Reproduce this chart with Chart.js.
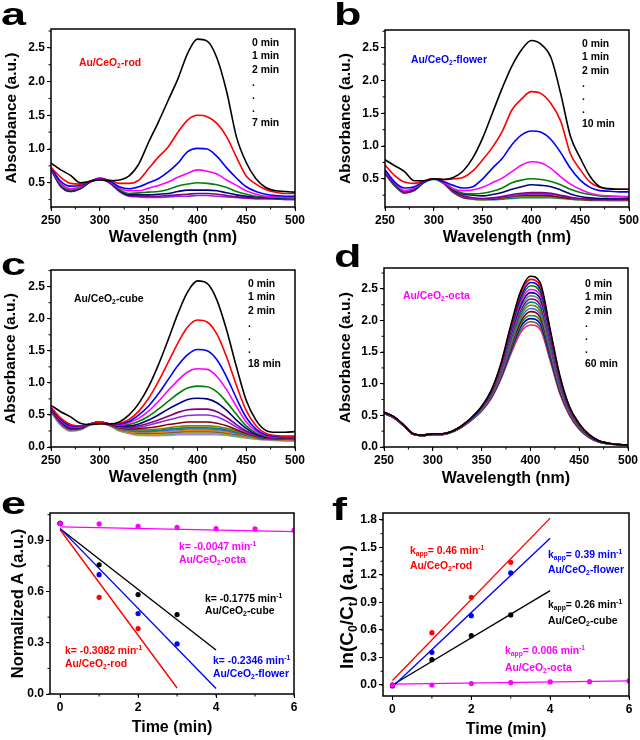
<!DOCTYPE html>
<html>
<head>
<meta charset="utf-8">
<script src="https://cdn.jsdelivr.net/npm/chart.js@4.4.1/dist/chart.umd.min.js"></script>
<style>
  body { margin: 0; background: #fff; }
  #fig { position: relative; width: 640px; height: 740px; font-family: "Liberation Sans", Arial, sans-serif; font-weight: bold; color: #000; }
  #fig canvas { position: absolute; }
  .t { position: absolute; font-size: 10.4px; line-height: 13px; white-space: nowrap; }
  .list { line-height: 13.3px; }
  .lbl { position: absolute; font-size: 31px; line-height: 31px; transform: scaleX(1.45); transform-origin: 0 0; }
  .ytitle { position: absolute; font-size: 19px; line-height: 20px; white-space: nowrap; transform: translate(-50%, -50%) rotate(-90deg); }
  sub { font-size: 0.65em; vertical-align: -0.3em; line-height: 0; }
  sup { font-size: 0.65em; vertical-align: 0.55em; line-height: 0; }
  .red { color: #ff0000; } .blue { color: #0000ff; } .mag { color: #ff00ff; }
</style>
</head>
<body>
<div id="fig">
  <canvas id="ca" width="320" height="250" style="left:0;top:0"></canvas>
  <canvas id="cb" width="320" height="250" style="left:320px;top:0"></canvas>
  <canvas id="cc" width="320" height="245" style="left:0;top:250px"></canvas>
  <canvas id="cd" width="320" height="245" style="left:320px;top:250px"></canvas>
  <canvas id="ce" width="320" height="245" style="left:0;top:495px"></canvas>
  <canvas id="cf" width="320" height="245" style="left:320px;top:495px"></canvas>

  <div class="lbl" style="left:1px;top:-1px">a</div>
  <div class="lbl" style="left:334px;top:-1px">b</div>
  <div class="lbl" style="left:1px;top:249px">c</div>
  <div class="lbl" style="left:334px;top:241px">d</div>
  <div class="lbl" style="left:1px;top:488px">e</div>
  <div class="lbl" style="left:332px;top:494px">f</div>

  <div class="t red" style="left:79px;top:56px">Au/CeO<sub>2</sub>-rod</div>
  <div class="t list" style="left:252px;top:36px">0 min<br>1 min<br>2 min<br>.<br>.<br>.<br>7 min</div>

  <div class="t blue" style="left:411px;top:53px">Au/CeO<sub>2</sub>-flower</div>
  <div class="t list" style="left:582px;top:37px">0 min<br>1 min<br>2 min<br>.<br>.<br>.<br>10 min</div>

  <div class="t" style="left:74px;top:292px">Au/CeO<sub>2</sub>-cube</div>
  <div class="t list" style="left:248px;top:277px">0 min<br>1 min<br>2 min<br>.<br>.<br>.<br>18 min</div>

  <div class="t mag" style="left:403px;top:289px">Au/CeO<sub>2</sub>-octa</div>
  <div class="t list" style="left:585px;top:277px">0 min<br>1 min<br>2 min<br>.<br>.<br>.<br>60 min</div>

  <div class="t mag" style="left:179px;top:540px">k= -0.0047 min<sup>-1</sup></div>
  <div class="t mag" style="left:179px;top:553px">Au/CeO<sub>2</sub>-octa</div>
  <div class="t" style="left:205px;top:592px">k= -0.1775 min<sup>-1</sup></div>
  <div class="t" style="left:205px;top:604px">Au/CeO<sub>2</sub>-cube</div>
  <div class="t red" style="left:65px;top:644px">k= -0.3082 min<sup>-1</sup></div>
  <div class="t red" style="left:65px;top:657px">Au/CeO<sub>2</sub>-rod</div>
  <div class="t blue" style="left:213px;top:654px">k= -0.2346 min<sup>-1</sup></div>
  <div class="t blue" style="left:213px;top:667px">Au/CeO<sub>2</sub>-flower</div>

  <div class="t red" style="left:410px;top:544px">k<sub>app</sub>= 0.46 min<sup>-1</sup></div>
  <div class="t red" style="left:410px;top:559px">Au/CeO<sub>2</sub>-rod</div>
  <div class="t blue" style="left:548px;top:548px">k<sub>app</sub>= 0.39 min<sup>-1</sup></div>
  <div class="t blue" style="left:548px;top:563px">Au/CeO<sub>2</sub>-flower</div>
  <div class="t" style="left:548px;top:598px">k<sub>app</sub>= 0.26 min<sup>-1</sup></div>
  <div class="t" style="left:548px;top:614px">Au/CeO<sub>2</sub>-cube</div>
  <div class="t mag" style="left:505px;top:644px">k<sub>app</sub>= 0.006 min<sup>-1</sup></div>
  <div class="t mag" style="left:505px;top:661px">Au/CeO<sub>2</sub>-octa</div>

  <div class="ytitle" style="left:347px;top:607px">ln(C<sub>0</sub>/C<sub>t</sub>) (a.u.)</div>
</div>

<script>
// wavelength grid shared by the four spectra panels (nm)
const wl = [250, 260, 270, 280, 290, 300, 310, 320, 330, 340, 350, 360, 370,
            380, 390, 400, 410, 420, 430, 440, 450, 460, 470, 480, 490, 500];

// (a) Au/CeO2-rod, 0..7 min
const rodCurves = [
  [0.79,0.69,0.61,0.50,0.52,0.54,0.53,0.54,0.60,0.78,1.10,1.40,1.72,2.04,2.42,2.63,2.60,2.35,1.85,1.18,0.80,0.56,0.43,0.38,0.37,0.36],
  [0.73,0.58,0.49,0.48,0.52,0.55,0.54,0.49,0.49,0.54,0.71,0.88,1.03,1.25,1.43,1.50,1.48,1.38,1.18,0.88,0.60,0.48,0.40,0.36,0.34,0.34],
  [0.72,0.52,0.45,0.46,0.52,0.56,0.53,0.44,0.41,0.44,0.50,0.56,0.66,0.79,0.96,1.01,1.00,0.89,0.72,0.57,0.44,0.37,0.33,0.31,0.30,0.30],
  [0.72,0.49,0.41,0.44,0.52,0.57,0.52,0.42,0.38,0.38,0.42,0.46,0.51,0.58,0.64,0.69,0.67,0.63,0.54,0.46,0.38,0.33,0.30,0.29,0.28,0.28],
  [0.71,0.47,0.39,0.43,0.52,0.57,0.52,0.40,0.34,0.35,0.36,0.37,0.40,0.45,0.48,0.50,0.49,0.47,0.43,0.37,0.33,0.30,0.29,0.28,0.28,0.27],
  [0.71,0.46,0.38,0.42,0.51,0.56,0.51,0.39,0.32,0.32,0.32,0.33,0.34,0.37,0.39,0.39,0.39,0.38,0.35,0.32,0.30,0.29,0.28,0.27,0.27,0.27],
  [0.70,0.45,0.37,0.41,0.51,0.56,0.50,0.38,0.31,0.30,0.30,0.30,0.31,0.32,0.33,0.34,0.34,0.33,0.31,0.29,0.28,0.27,0.27,0.26,0.26,0.26],
  [0.69,0.44,0.37,0.41,0.51,0.56,0.50,0.37,0.30,0.29,0.28,0.28,0.29,0.30,0.30,0.31,0.31,0.30,0.29,0.28,0.27,0.26,0.26,0.26,0.25,0.25]
];

// (b) Au/CeO2-flower, 0..10 min
const flowerCurves = [
  [0.79,0.70,0.61,0.47,0.47,0.50,0.49,0.52,0.62,0.82,1.12,1.50,1.88,2.22,2.47,2.61,2.55,2.35,1.80,1.15,0.82,0.54,0.38,0.35,0.34,0.34],
  [0.71,0.55,0.45,0.43,0.47,0.50,0.49,0.50,0.52,0.62,0.79,0.98,1.22,1.55,1.72,1.83,1.80,1.65,1.38,0.88,0.64,0.45,0.37,0.34,0.34,0.34],
  [0.64,0.45,0.36,0.38,0.46,0.50,0.46,0.40,0.36,0.38,0.50,0.66,0.81,1.02,1.17,1.23,1.21,1.10,0.90,0.66,0.48,0.37,0.32,0.31,0.30,0.30],
  [0.62,0.44,0.32,0.36,0.46,0.50,0.45,0.35,0.32,0.33,0.37,0.44,0.51,0.61,0.71,0.76,0.74,0.66,0.53,0.42,0.34,0.28,0.25,0.24,0.23,0.23],
  [0.62,0.43,0.31,0.35,0.45,0.50,0.45,0.34,0.28,0.27,0.28,0.31,0.36,0.44,0.48,0.50,0.49,0.46,0.41,0.34,0.29,0.26,0.24,0.23,0.23,0.22],
  [0.61,0.42,0.31,0.34,0.45,0.50,0.45,0.33,0.27,0.25,0.24,0.26,0.29,0.34,0.38,0.41,0.40,0.38,0.33,0.27,0.23,0.21,0.20,0.20,0.20,0.20],
  [0.60,0.41,0.30,0.33,0.45,0.50,0.44,0.31,0.24,0.21,0.20,0.21,0.23,0.26,0.28,0.29,0.29,0.28,0.25,0.22,0.20,0.19,0.19,0.19,0.19,0.19],
  [0.60,0.40,0.30,0.33,0.45,0.50,0.44,0.30,0.23,0.20,0.19,0.20,0.22,0.24,0.26,0.27,0.27,0.26,0.24,0.21,0.19,0.19,0.18,0.18,0.18,0.18],
  [0.59,0.40,0.29,0.33,0.45,0.50,0.44,0.30,0.22,0.20,0.19,0.19,0.21,0.23,0.25,0.25,0.25,0.24,0.22,0.20,0.19,0.18,0.18,0.18,0.18,0.18],
  [0.59,0.39,0.29,0.32,0.45,0.50,0.43,0.29,0.22,0.19,0.18,0.19,0.20,0.22,0.23,0.23,0.23,0.22,0.21,0.19,0.18,0.18,0.18,0.17,0.17,0.17],
  [0.58,0.39,0.28,0.32,0.44,0.49,0.43,0.29,0.21,0.19,0.18,0.18,0.19,0.20,0.21,0.21,0.21,0.21,0.20,0.19,0.18,0.17,0.17,0.17,0.17,0.17]
];

// (c) Au/CeO2-cube, 0..18 min
const cubeCurves = [
  [0.65,0.55,0.47,0.37,0.35,0.36,0.36,0.39,0.50,0.68,0.94,1.28,1.67,2.08,2.42,2.59,2.55,2.29,1.82,1.25,0.73,0.42,0.26,0.23,0.23,0.24],
  [0.62,0.45,0.35,0.33,0.36,0.38,0.36,0.37,0.43,0.56,0.76,1.02,1.32,1.62,1.87,1.98,1.95,1.76,1.40,0.96,0.57,0.33,0.21,0.18,0.17,0.17],
  [0.61,0.43,0.33,0.32,0.36,0.38,0.36,0.36,0.40,0.50,0.64,0.83,1.05,1.27,1.44,1.52,1.50,1.36,1.09,0.76,0.46,0.28,0.19,0.17,0.16,0.16],
  [0.60,0.42,0.32,0.31,0.36,0.39,0.36,0.35,0.38,0.45,0.56,0.71,0.88,1.04,1.17,1.22,1.21,1.10,0.89,0.63,0.39,0.25,0.18,0.16,0.15,0.15],
  [0.60,0.41,0.31,0.31,0.36,0.39,0.36,0.34,0.35,0.40,0.48,0.59,0.71,0.83,0.92,0.95,0.94,0.86,0.70,0.51,0.33,0.22,0.17,0.15,0.15,0.15],
  [0.59,0.40,0.30,0.30,0.36,0.39,0.36,0.33,0.33,0.36,0.42,0.50,0.59,0.67,0.74,0.76,0.75,0.69,0.57,0.42,0.29,0.20,0.16,0.15,0.14,0.14],
  [0.59,0.39,0.29,0.30,0.36,0.39,0.36,0.32,0.31,0.33,0.37,0.42,0.48,0.54,0.58,0.59,0.59,0.55,0.46,0.35,0.25,0.19,0.15,0.14,0.14,0.14],
  [0.58,0.38,0.29,0.30,0.36,0.39,0.36,0.31,0.30,0.31,0.34,0.38,0.42,0.46,0.49,0.50,0.50,0.47,0.40,0.31,0.23,0.18,0.15,0.14,0.13,0.13],
  [0.58,0.38,0.28,0.29,0.36,0.39,0.35,0.30,0.28,0.29,0.30,0.32,0.35,0.37,0.39,0.39,0.39,0.37,0.33,0.27,0.21,0.17,0.14,0.13,0.13,0.13],
  [0.58,0.37,0.28,0.29,0.36,0.39,0.35,0.29,0.27,0.27,0.27,0.28,0.30,0.32,0.33,0.33,0.33,0.32,0.29,0.25,0.20,0.16,0.14,0.13,0.13,0.12],
  [0.57,0.37,0.28,0.29,0.36,0.39,0.35,0.29,0.26,0.25,0.25,0.26,0.28,0.29,0.30,0.30,0.30,0.29,0.27,0.23,0.19,0.15,0.13,0.12,0.12,0.12],
  [0.57,0.36,0.27,0.29,0.36,0.39,0.35,0.28,0.25,0.24,0.24,0.25,0.26,0.27,0.28,0.28,0.28,0.27,0.25,0.22,0.18,0.15,0.13,0.12,0.12,0.11],
  [0.57,0.36,0.27,0.28,0.35,0.38,0.35,0.28,0.24,0.23,0.23,0.23,0.24,0.25,0.26,0.26,0.26,0.25,0.23,0.21,0.17,0.14,0.13,0.12,0.11,0.11],
  [0.56,0.36,0.27,0.28,0.35,0.38,0.34,0.27,0.24,0.22,0.22,0.22,0.23,0.24,0.25,0.25,0.25,0.24,0.22,0.20,0.17,0.14,0.12,0.12,0.11,0.11],
  [0.56,0.35,0.26,0.28,0.35,0.38,0.34,0.27,0.23,0.21,0.21,0.21,0.22,0.23,0.24,0.24,0.24,0.23,0.21,0.19,0.16,0.14,0.12,0.11,0.11,0.11],
  [0.56,0.35,0.26,0.28,0.35,0.38,0.34,0.26,0.22,0.20,0.20,0.20,0.21,0.22,0.22,0.22,0.22,0.22,0.20,0.18,0.16,0.13,0.12,0.11,0.11,0.10],
  [0.55,0.35,0.26,0.27,0.35,0.38,0.34,0.26,0.22,0.20,0.19,0.19,0.20,0.21,0.21,0.21,0.21,0.21,0.19,0.17,0.15,0.13,0.12,0.11,0.10,0.10],
  [0.55,0.34,0.25,0.27,0.35,0.38,0.33,0.26,0.21,0.19,0.18,0.18,0.19,0.20,0.20,0.20,0.20,0.20,0.19,0.17,0.15,0.13,0.11,0.11,0.10,0.10],
  [0.55,0.34,0.25,0.27,0.34,0.37,0.33,0.25,0.21,0.18,0.18,0.18,0.18,0.19,0.19,0.19,0.19,0.19,0.18,0.16,0.14,0.12,0.11,0.10,0.10,0.10]
];

// (d) Au/CeO2-octa, every 4 min of 0..60 min
const octaCurves = [
  [0.55,0.48,0.35,0.21,0.19,0.21,0.21,0.25,0.34,0.47,0.64,0.90,1.33,1.93,2.46,2.70,2.60,1.88,1.14,0.64,0.37,0.20,0.10,0.06,0.04,0.03],
  [0.55,0.48,0.35,0.21,0.19,0.21,0.21,0.25,0.34,0.47,0.64,0.89,1.31,1.90,2.42,2.65,2.55,1.85,1.12,0.63,0.36,0.20,0.10,0.06,0.04,0.03],
  [0.55,0.48,0.35,0.21,0.19,0.21,0.21,0.25,0.34,0.46,0.63,0.88,1.30,1.87,2.37,2.60,2.50,1.81,1.10,0.62,0.36,0.19,0.10,0.06,0.04,0.03],
  [0.55,0.48,0.35,0.21,0.19,0.21,0.21,0.25,0.33,0.46,0.63,0.87,1.28,1.84,2.33,2.55,2.45,1.78,1.08,0.61,0.35,0.19,0.10,0.06,0.04,0.03],
  [0.55,0.47,0.35,0.21,0.19,0.21,0.21,0.25,0.33,0.46,0.62,0.87,1.26,1.81,2.29,2.49,2.40,1.74,1.06,0.60,0.35,0.19,0.10,0.06,0.04,0.03],
  [0.54,0.47,0.35,0.21,0.19,0.21,0.21,0.25,0.33,0.46,0.62,0.86,1.25,1.78,2.24,2.44,2.35,1.71,1.04,0.59,0.34,0.18,0.09,0.06,0.04,0.03],
  [0.54,0.47,0.35,0.21,0.19,0.21,0.20,0.24,0.33,0.45,0.61,0.85,1.23,1.75,2.20,2.39,2.30,1.68,1.02,0.58,0.33,0.18,0.09,0.06,0.04,0.03],
  [0.54,0.47,0.34,0.21,0.18,0.20,0.20,0.24,0.33,0.45,0.61,0.84,1.21,1.72,2.16,2.34,2.25,1.65,1.00,0.57,0.33,0.18,0.09,0.06,0.04,0.03],
  [0.54,0.47,0.34,0.21,0.18,0.20,0.20,0.24,0.33,0.45,0.60,0.83,1.20,1.68,2.11,2.29,2.20,1.61,0.98,0.56,0.32,0.17,0.09,0.05,0.04,0.03],
  [0.54,0.47,0.34,0.20,0.18,0.20,0.20,0.24,0.33,0.45,0.60,0.82,1.18,1.65,2.07,2.24,2.15,1.58,0.96,0.55,0.32,0.17,0.09,0.05,0.04,0.03],
  [0.54,0.47,0.34,0.20,0.18,0.20,0.20,0.24,0.33,0.44,0.59,0.81,1.16,1.62,2.03,2.19,2.10,1.54,0.94,0.54,0.31,0.17,0.09,0.05,0.04,0.03],
  [0.54,0.46,0.34,0.20,0.18,0.20,0.20,0.24,0.32,0.44,0.59,0.80,1.15,1.59,1.98,2.14,2.05,1.51,0.92,0.53,0.30,0.16,0.09,0.05,0.04,0.03],
  [0.53,0.46,0.34,0.20,0.18,0.20,0.20,0.24,0.32,0.44,0.58,0.80,1.13,1.56,1.94,2.08,2.00,1.48,0.91,0.53,0.30,0.16,0.08,0.05,0.04,0.03],
  [0.53,0.46,0.34,0.20,0.18,0.20,0.20,0.24,0.32,0.44,0.58,0.79,1.11,1.53,1.90,2.03,1.95,1.44,0.89,0.52,0.29,0.16,0.08,0.05,0.04,0.03],
  [0.53,0.46,0.34,0.20,0.18,0.20,0.20,0.24,0.32,0.43,0.57,0.78,1.10,1.50,1.85,1.98,1.90,1.41,0.87,0.51,0.29,0.15,0.08,0.05,0.04,0.03],
  [0.53,0.46,0.34,0.20,0.18,0.20,0.20,0.24,0.32,0.43,0.57,0.77,1.08,1.47,1.81,1.93,1.86,1.38,0.85,0.50,0.28,0.15,0.08,0.05,0.04,0.03]
];

const curveColors = ['#000000', '#ff0000', '#0000ff', '#ff00ff', '#008000', '#000080', '#800080', '#8b2be2',
                     '#800000', '#808000', '#008080', '#4169e1', '#ff8000', '#8b4513', '#7f7f7f', '#b8b800',
                     '#20b2aa', '#c080ff', '#a0a080'];
const octaColors = ['#000000', '#ff0000', '#0000ff', '#008000', '#ff00ff', '#000080', '#808080', '#800080',
                    '#008080', '#808000', '#4169e1', '#800000', '#228b22', '#0000cd', '#556b2f', '#ff1493'];

// (e) normalized absorbance vs time
const timeE = [0, 1, 2, 3, 4, 5, 6];
const rodE = [1.0, 0.566, 0.383];
const flowerE = [1.0, 0.699, 0.471, 0.293];
const cubeE = [1.0, 0.757, 0.582, 0.465];
const octaE = [0.998, 0.996, 0.982, 0.976, 0.969, 0.967, 0.959];
// fit lines: start value at t=0, end time, end value (rod, flower, cube, octa)
const fitStartE = [0.962, 0.970, 0.968, 0.979];
const fitEndTE = [3, 4, 4, 6];
const fitEndE = [0.035, 0.032, 0.258, 0.951];

// (f) ln(C0/Ct) vs time
const timeF = [0, 1, 2, 3, 4, 5, 6];
const rodF = [0.0, 0.571, 0.956, 1.338];
const flowerF = [-0.01, 0.356, 0.756, 1.222];
const cubeF = [0.0, 0.276, 0.538, 0.764];
const octaF = [0.0, 0.0, 0.015, 0.025, 0.033, 0.036, 0.044];
const fitStartF = [0.05, -0.02, 0.0, 0.01];
const fitEndTF = [4, 4, 4, 6];
const fitEndF = [1.82, 1.60, 1.03, 0.045];

const seriesColors = ['#ff0000', '#0000ff', '#000000', '#ff00ff'];

Chart.defaults.font.family = '"Liberation Sans", Arial, sans-serif';
Chart.defaults.font.weight = 'bold';
Chart.defaults.color = '#000';

// frame box + minor ticks, Origin style
const frame = {
  id: 'frame',
  afterDraw(chart, args, o) {
    const { ctx, chartArea: a, scales: { x, y } } = chart;
    ctx.save();
    ctx.strokeStyle = '#000';
    ctx.lineWidth = 1;
    ctx.beginPath();
    for (let k = Math.ceil(x.min / o.xMinor - 1e-9); k * o.xMinor <= x.max + 1e-9; k++) {
      const px = x.getPixelForValue(k * o.xMinor);
      ctx.moveTo(px, a.bottom); ctx.lineTo(px, a.bottom + 2.5);
    }
    for (let k = Math.ceil(y.min / o.yMinor - 1e-9); k * o.yMinor <= y.max + 1e-9; k++) {
      const py = y.getPixelForValue(k * o.yMinor);
      ctx.moveTo(a.left, py); ctx.lineTo(a.left - 2.5, py);
    }
    ctx.stroke();
    ctx.lineWidth = 1.5;
    ctx.strokeRect(a.left, a.top, a.right - a.left, a.bottom - a.top);
    ctx.restore();
  }
};

function axis(a, dir) {
  return {
    type: 'linear', min: a.min, max: a.max,
    ticks: { stepSize: a.step, includeBounds: false, padding: 2, font: { size: 12, weight: 'bold' },
             callback: a.fmt || (v => v) },
    grid: { drawOnChartArea: false, tickLength: 4, tickColor: '#000', tickWidth: 1 },
    border: { display: false },
    title: { display: !!a.title, text: a.title, font: { size: a.tsize || 16, weight: 'bold' },
             padding: dir === 'x' ? { top: 0, bottom: a.tpad } : { top: a.tpad, bottom: 0 } },
    afterFit(s) {
      if (dir === 'x') s.height = a.size; else s.width = a.size;
      s.paddingLeft = 0; s.paddingRight = 0; s.paddingTop = 0; s.paddingBottom = 0;
    }
  };
}

function makeChart(id, p) {
  new Chart(document.getElementById(id), {
    type: 'scatter',
    data: { datasets: p.datasets },
    options: {
      responsive: false, animation: false, events: [],
      layout: { padding: { top: p.top, right: p.right, left: 0, bottom: 0 } },
      plugins: { legend: { display: false }, tooltip: { enabled: false },
                 frame: { xMinor: p.xMinor, yMinor: p.yMinor } },
      scales: { x: axis(p.x, 'x'), y: axis(p.y, 'y') }
    },
    plugins: [frame]
  });
}

function spectra(curves, colors) {
  return curves.map((vals, i) => ({
    data: vals.map((v, j) => ({ x: wl[j], y: v })),
    showLine: true, borderColor: colors[i % colors.length], borderWidth: 1.6,
    pointRadius: 0, cubicInterpolationMode: 'monotone'
  }));
}

function kinetics(points, starts, endT, ends, times) {
  const sets = [];
  points.forEach((vals, i) => {
    // lower order is painted last, so the octa points sit on top at t = 0
    sets.push({ data: vals.map((v, j) => ({ x: times[j], y: v })), showLine: false,
                pointRadius: 2.6, pointBackgroundColor: seriesColors[i], pointBorderWidth: 0,
                order: (3 - i) * 0.1 });
    sets.push({ data: [{ x: 0, y: starts[i] }, { x: endT[i], y: ends[i] }], showLine: true,
                borderColor: seriesColors[i], borderWidth: 1.4, pointRadius: 0, order: 1 });
  });
  return sets;
}

const wlAxis = (size, tpad) => ({ min: 250, max: 500, step: 50, title: 'Wavelength (nm)', size, tpad });
const absAxis = (min, max, size, tpad) => ({ min, max, step: 0.5, fmt: v => v.toFixed(1),
                                             title: 'Absorbance (a.u.)', tsize: 15.5, size, tpad });

makeChart('ca', { datasets: spectra(rodCurves, curveColors), top: 29, right: 25, xMinor: 25, yMinor: 0.25,
                  x: wlAxis(43, 2.4), y: absAxis(0.14, 2.78, 51, 2) });
makeChart('cb', { datasets: spectra(flowerCurves, curveColors), top: 30, right: 11, xMinor: 25, yMinor: 0.25,
                  x: wlAxis(43, 2.4), y: absAxis(0.07, 2.77, 65, 16.5) });
makeChart('cc', { datasets: spectra(cubeCurves, curveColors), top: 20, right: 25, xMinor: 25, yMinor: 0.25,
                  x: wlAxis(48, 7.4), y: absAxis(0, 2.76, 51, 1) });
makeChart('cd', { datasets: spectra(octaCurves, octaColors), top: 18, right: 12, xMinor: 25, yMinor: 0.25,
                  x: wlAxis(48, 6.4), y: absAxis(0, 2.83, 64, 16) });

makeChart('ce', {
  datasets: kinetics([rodE, flowerE, cubeE, octaE], fitStartE, fitEndTE, fitEndE, timeE),
  top: 18, right: 26, xMinor: 1, yMinor: 0.15,
  x: { min: -0.26, max: 6, step: 2, title: 'Time (min)', size: 46, tpad: 2.4 },
  y: { min: 0, max: 1.06, step: 0.3, fmt: v => v.toFixed(1), title: 'Normalized A (a.u.)', tsize: 16.5, size: 50, tpad: 9 }
});
makeChart('cf', {
  datasets: kinetics([rodF, flowerF, cubeF, octaF], fitStartF, fitEndTF, fitEndF, timeF),
  top: 18, right: 11, xMinor: 1, yMinor: 0.15,
  x: { min: -0.24, max: 6, step: 2, title: 'Time (min)', size: 44, tpad: 0.4 },
  y: { min: -0.12, max: 1.876, step: 0.3, fmt: v => v.toFixed(1), size: 63 }
});
</script>
</body>
</html>
